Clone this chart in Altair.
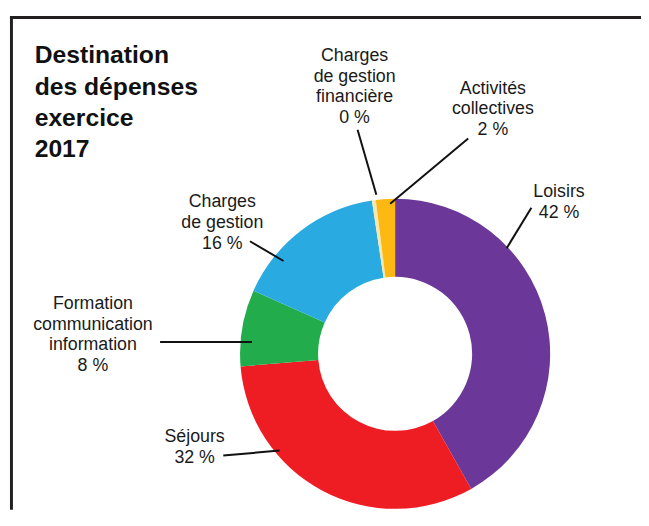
import altair as alt
import pandas as pd

# ---- data ----
categories = ["Loisirs", "Séjours", "Formation communication information",
              "Charges de gestion", "Charges de gestion financière", "Activités collectives"]
values = [42, 32, 8, 16, 0.4, 2]          # 0 % slice drawn as a visible sliver
pct_labels = ["42 %", "32 %", "8 %", "16 %", "0 %", "2 %"]
label_lines = [
    ["Loisirs"],
    ["Séjours"],
    ["Formation", "communication", "information"],
    ["Charges", "de gestion"],
    ["Charges", "de gestion", "financière"],
    ["Activités", "collectives"],
]
colors = ["#6B3899", "#EE1D23", "#23AC4C", "#29ABE2", "#F4E7B0", "#FDB813"]
title_lines = ["Destination", "des dépenses", "exercice", "2017"]

# ---- layout (page pixel coordinates) ----
W, H = 641, 505
OFF = 8
label_pos = [(566, 196.5), (197, 444.5), (94, 309.5), (225, 206.5), (359, 58.5), (499, 91.5)]
leaders = [((538, 207), (513, 248)), ((226, 458), (283, 453)), ((162, 343), (255, 343)),
           ((253, 241), (287, 261)), ((362, 128), (381, 194)), ((474, 137), (395, 203))]
center = (400, 355)

pie = pd.DataFrame({"cat": categories, "value": values, "order": list(range(len(values)))})
labels = pd.DataFrame({
    "text": ["\n".join(l + [p]) for l, p in zip(label_lines, pct_labels)],
    "x": [p[0] for p in label_pos],
    "y": [p[1] for p in label_pos],
})
lead = pd.DataFrame({
    "x": [a[0] for a, b in leaders], "y": [a[1] for a, b in leaders],
    "x2": [b[0] for a, b in leaders], "y2": [b[1] for a, b in leaders],
})
frame = pd.DataFrame({"x": [10, 11.5], "y": [14.5, 13], "x2": [649, 11.5], "y2": [14.5, 513]})
title = pd.DataFrame({"text": ["\n".join(title_lines)], "x": [35], "y": [61]})

xs = alt.Scale(domain=[OFF, OFF + W], nice=False, zero=False)
ys = alt.Scale(domain=[OFF + H, OFF], nice=False, zero=False)

def X(f="x"):
    return alt.X(f"{f}:Q", scale=xs, axis=None)

def Y(f="y"):
    return alt.Y(f"{f}:Q", scale=ys, axis=None)

arc = alt.Chart(pie).mark_arc(outerRadius=157, innerRadius=78).encode(
    theta=alt.Theta("value:Q", stack=True),
    order=alt.Order("order:Q"),
    color=alt.Color("cat:N", scale=alt.Scale(domain=categories, range=colors), legend=None),
    x=alt.value(center[0] - OFF),
    y=alt.value(center[1] - OFF),
)

rules = alt.Chart(lead).mark_rule(color="#111111", strokeWidth=2).encode(
    x=X(), y=Y(), x2="x2:Q", y2="y2:Q")

frame_rules = alt.Chart(frame).mark_rule(color="#231F20", strokeWidth=3, opacity=1).encode(
    x=X(), y=Y(), x2="x2:Q", y2="y2:Q")

text = alt.Chart(labels).mark_text(
    align="center", baseline="alphabetic", lineBreak="\n", fontSize=18, lineHeight=21,
    font="Liberation Sans", color="#1a1a1a").encode(x=X(), y=Y(), text="text:N")

ttl = alt.Chart(title).mark_text(
    align="left", baseline="alphabetic", lineBreak="\n", fontSize=25, lineHeight=31.5,
    font="Liberation Sans", fontWeight="bold", color="#111111").encode(x=X(), y=Y(), text="text:N")

chart = alt.layer(frame_rules, arc, rules, text, ttl).properties(
    width=W, height=H, padding=0, background="white",
    autosize=alt.AutoSizeParams(type="none")
).configure_view(stroke=None, strokeWidth=0)

chart.save("out.html", embed_options={"renderer": "svg", "actions": False})
